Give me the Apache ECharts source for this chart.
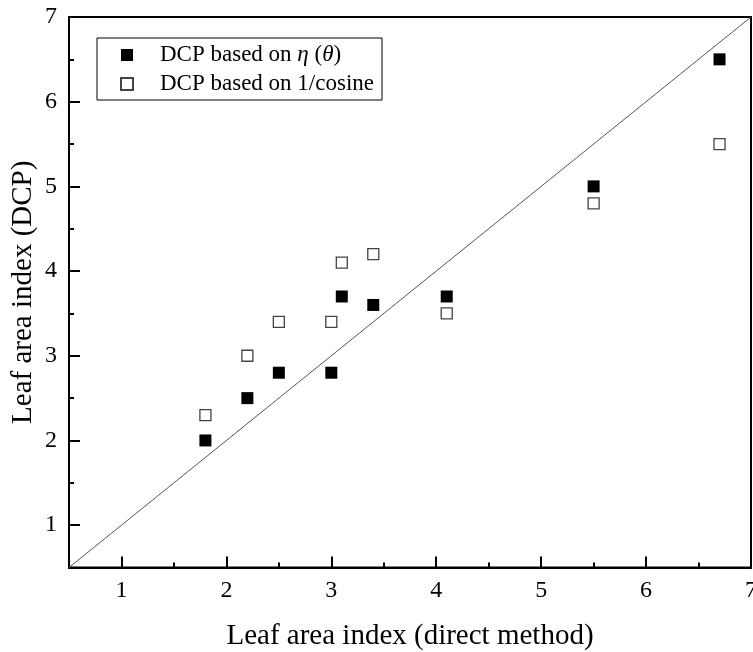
<!DOCTYPE html>
<html>
<head>
<meta charset="utf-8">
<script src="https://cdn.jsdelivr.net/npm/echarts@6/dist/echarts.min.js"></script>
<style>html,body{margin:0;padding:0;background:#fff}#c{width:753px;height:652px}</style>
</head>
<body>
<div id="c"></div>
<script>
// ---- data ----
var directLAI = [1.8, 2.2, 2.5, 3.0, 3.1, 3.4, 4.1, 5.5, 6.7];
var dcpEta    = [2.0, 2.5, 2.8, 2.8, 3.7, 3.6, 3.7, 5.0, 6.5];
var dcpCosine = [2.3, 3.0, 3.4, 3.4, 4.1, 4.2, 3.5, 4.8, 5.5];
var oneToOne  = [0.5, 7];
var xTicks = [1, 2, 3, 4, 5, 6, 7];
var yTicks = [1, 2, 3, 4, 5, 6, 7];
var axisMin = 0.5, axisMax = 7, minorStep = 0.5;
var nameEta = 'DCP based on η (θ)';
var nameCos = 'DCP based on 1/cosine';
var xTitle = 'Leaf area index (direct method)';
var yTitle = 'Leaf area index (DCP)';

var FONT = "'Liberation Serif', 'Times New Roman', serif";

function pairs(xs, ys) { return xs.map(function (x, i) { return [x, ys[i]]; }); }

function majorAxis(isX) {
  var ticks = isX ? xTicks : yTicks;
  return {
    type: 'value', min: axisMin, max: axisMax, interval: minorStep,
    position: isX ? 'bottom' : 'left',
    name: isX ? xTitle : yTitle,
    nameLocation: 'middle',
    nameMoveOverlap: false,
    nameGap: isX ? 54 : 31,
    nameTextStyle: { fontFamily: FONT, fontSize: 29, color: '#000' },
    axisLine: { show: true, onZero: false, lineStyle: { color: '#000', width: 2 } },
    axisTick: { show: true, inside: true, length: 11, customValues: ticks, lineStyle: { color: '#000', width: 2 } },
    axisLabel: { show: true, customValues: ticks, margin: isX ? 11 : 12, fontFamily: FONT, fontSize: 24, color: '#000' },
    splitLine: { show: false }
  };
}
function minorAxis(isX) {
  return {
    type: 'value', min: axisMin, max: axisMax, interval: minorStep,
    position: isX ? 'bottom' : 'left',
    axisLine: { show: false, onZero: false },
    axisTick: { show: true, inside: true, length: 5, lineStyle: { color: '#000', width: 2 } },
    axisLabel: { show: false },
    splitLine: { show: false }
  };
}

var chart = echarts.init(document.getElementById('c'), null, { renderer: 'canvas' });
chart.setOption({
  animation: false,
  backgroundColor: '#fff',
  grid: { left: 69, right: 2, top: 17, bottom: 84.5, containLabel: false, outerBoundsMode: 'none',
          show: true, borderColor: '#000', borderWidth: 2, backgroundColor: 'transparent' },
  xAxis: [majorAxis(true), minorAxis(true)],
  yAxis: [majorAxis(false), minorAxis(false)],
  legend: {
    data: [nameEta, nameCos],
    orient: 'vertical',
    left: 97, top: 38,
    padding: [3, 8, 2, 23],
    itemGap: 1,
    itemWidth: 12, itemHeight: 12,
    borderColor: '#000', borderWidth: 1,
    backgroundColor: '#fff',
    formatter: function (n) {
      if (n === nameEta) return '{s| }{a|DCP based on }{i|η}{a| (}{i|θ}{a|)}';
      return '{s| }{a|' + n + '}';
    },
    textStyle: {
      fontFamily: FONT, fontSize: 23, color: '#000', lineHeight: 28,
      rich: {
        s: { width: 22, fontSize: 23, lineHeight: 28 },
        a: { fontFamily: FONT, fontSize: 23, color: '#000', lineHeight: 28 },
        i: { fontFamily: FONT, fontSize: 23, color: '#000', fontStyle: 'italic', lineHeight: 28 }
      }
    }
  },
  series: [
    {
      type: 'line', name: '1:1',
      data: [[oneToOne[0], oneToOne[0]], [oneToOne[1], oneToOne[1]]],
      symbol: 'none', silent: true,
      lineStyle: { color: '#555', width: 1 },
      z: 1
    },
    {
      type: 'scatter', name: nameEta,
      data: pairs(directLAI, dcpEta),
      symbol: 'rect', symbolSize: 12,
      itemStyle: { color: '#000', borderColor: '#000', borderWidth: 0, opacity: 1 },
      z: 3
    },
    {
      type: 'scatter', name: nameCos,
      data: pairs(directLAI, dcpCosine),
      symbol: 'rect', symbolSize: 11,
      itemStyle: { color: '#fff', borderColor: '#444', borderWidth: 1.3, opacity: 1 },
      z: 3
    }
  ]
});
</script>
</body>
</html>
